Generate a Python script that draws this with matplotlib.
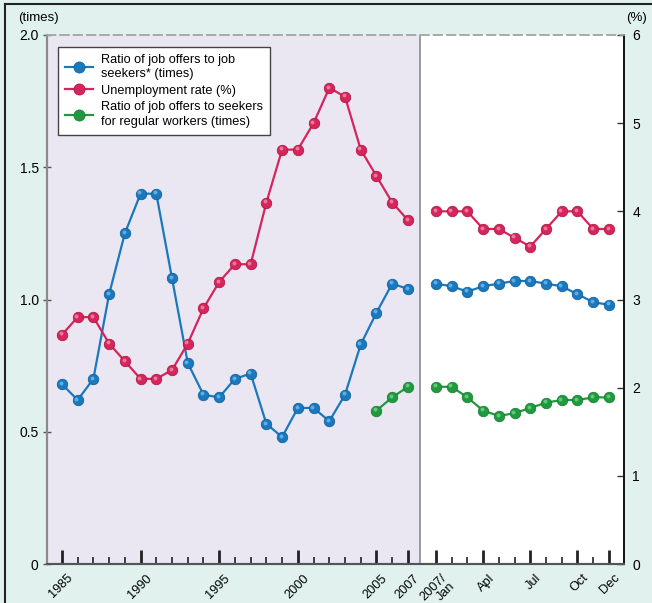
import numpy as np
import matplotlib.pyplot as plt
from matplotlib.lines import Line2D
from matplotlib.transforms import offset_copy

plt.rcParams['font.family'] = ['Liberation Sans', 'DejaVu Sans']

# annual data 1985-2007
years = list(range(1985, 2008))
ratio_annual = [0.68, 0.62, 0.70, 1.02, 1.25, 1.40, 1.40, 1.08, 0.76, 0.64, 0.63, 0.70,
                0.72, 0.53, 0.48, 0.59, 0.59, 0.54, 0.64, 0.83, 0.95, 1.06, 1.04]
unemp_annual = [2.6, 2.8, 2.8, 2.5, 2.3, 2.1, 2.1, 2.2, 2.5, 2.9, 3.2, 3.4,
                3.4, 4.1, 4.7, 4.7, 5.0, 5.4, 5.3, 4.7, 4.4, 4.1, 3.9]
regular_years = [2005, 2006, 2007]
regular_annual = [0.58, 0.63, 0.67]

# monthly data 2007
months = ["Jan", "Feb", "Mar", "Apr", "May", "Jun", "Jul", "Aug", "Sep", "Oct", "Nov", "Dec"]
ratio_monthly = [1.06, 1.05, 1.03, 1.05, 1.06, 1.07, 1.07, 1.06, 1.05, 1.02, 0.99, 0.98]
unemp_monthly = [4.0, 4.0, 4.0, 3.8, 3.8, 3.7, 3.6, 3.8, 4.0, 4.0, 3.8, 3.8]
regular_monthly = [0.67, 0.67, 0.63, 0.58, 0.56, 0.57, 0.59, 0.61, 0.62, 0.62, 0.63, 0.63]

month_labels = {"Jan": "2007/\nJan", "Apr": "Apl", "Jul": "Jul", "Oct": "Oct", "Dec": "Dec"}
year_labels = [1985, 1990, 1995, 2000, 2005, 2007]

BLUE = '#1a78bd'
RED = '#d6245c'
GREEN = '#1f9a3e'
MINT = '#e1f2ee'
LAVENDER = '#ebe7f2'

# x positions: one slot per year, then a gap, one slot per month
gap = 1.78
x_year = np.array(years) - years[0]
x_month = x_year[-1] + gap + np.arange(len(months))
x_reg = np.array(regular_years) - years[0]
x_split = x_year[-1] + 0.76

fig = plt.figure(figsize=(6.52, 6.03), dpi=100, facecolor=MINT)
ax = fig.add_axes([47 / 652, 1 - 564 / 603, 577 / 652, 529 / 603])
ax.set_facecolor('white')
ax.set_xlim(x_year[0] - 0.95, x_month[-1] + 0.96)
ax.set_ylim(0, 2.0)
ax.axvspan(ax.get_xlim()[0], x_split, color=LAVENDER, zorder=0, lw=0)
ax.axvline(x_split, color='#8a8a8a', lw=1.2, zorder=1)

ax2 = ax.twinx()
ax2.set_ylim(0, 6)

SHADES = {BLUE: ('#0d5a94', '#6cb8ec'), RED: ('#a8123f', '#f2899f'), GREEN: ('#127a2b', '#72d088')}


def series(a, x, y, color, label=None):
    dark, light = SHADES[color]
    a.plot(x, y, color=color, lw=1.6, marker='o', ms=7.6, mfc=color, mec=dark, mew=0.5,
           label=label, zorder=3)
    hl = offset_copy(a.transData, fig=fig, x=-1.3, y=1.3, units='dots')
    a.plot(x, y, ls='none', marker='o', ms=2.8, mfc=light, mec='none', alpha=0.85,
           transform=hl, zorder=4)


series(ax, x_year, ratio_annual, BLUE)
series(ax, x_month, ratio_monthly, BLUE)
series(ax2, x_year, unemp_annual, RED)
series(ax2, x_month, unemp_monthly, RED)
series(ax, x_reg, regular_annual, GREEN)
series(ax, x_month, regular_monthly, GREEN)

# ticks
major_x = [x_year[years.index(y)] for y in year_labels] + \
          [x_month[months.index(m)] for m in month_labels]
major_lab = [str(y) for y in year_labels] + list(month_labels.values())
ax.set_xticks(major_x)
ax.set_xticklabels([])
ax.set_xticks(list(x_year) + list(x_month), minor=True)
ax.tick_params(axis='x', which='major', direction='in', length=10, width=2, color='#222222')
ax.tick_params(axis='x', which='minor', direction='in', length=5, width=1.2, color='#222222')

# rotated x labels, anchored at their upper-right corner just below each tick;
# two-line labels are drawn line by line, each next line stepped down-right
for xv, lab in zip(major_x, major_lab):
    for i, part in enumerate(lab.split('\n')):
        tr = offset_copy(ax.get_xaxis_transform(), fig=fig, x=5 + 8 * i, y=-8 - 8 * i,
                         units='dots')
        ax.text(xv, 0, part, transform=tr, rotation=45, rotation_mode='anchor',
                ha='right', va='top', fontsize=9.2, clip_on=False)

ax.set_yticks([0, 0.5, 1.0, 1.5, 2.0])
ax.set_yticklabels(['0', '0.5', '1.0', '1.5', '2.0'], fontsize=10)
ax.tick_params(axis='y', direction='inout', length=6, width=1, color='#555555', pad=3)
ax2.set_yticks(range(7))
ax2.set_yticklabels([str(v) for v in range(7)], fontsize=10)
ax2.tick_params(axis='y', direction='in', length=5, width=1, color='#333333', pad=6)

for a in (ax, ax2):
    a.spines['top'].set_color('#a8a8a8')
    a.spines['top'].set_linestyle((0, (5, 3)))
    a.spines['top'].set_linewidth(1.2)
    a.spines['left'].set_color('#8a8a8a')
    a.spines['left'].set_linewidth(1.5)
    a.spines['bottom'].set_color('#555555')
    a.spines['bottom'].set_linewidth(1.5)
    a.spines['right'].set_color('#111111')
    a.spines['right'].set_linewidth(1.2)

fig.text(18 / 652, 1 - 18 / 603, '(times)', fontsize=9.5, va='center', ha='left')
fig.text(647 / 652, 1 - 18 / 603, '(%)', fontsize=9.5, va='center', ha='right')

# legend
handles = [Line2D([], [], color=c, lw=1.6, marker='o', ms=8, mec=SHADES[c][0], mew=0.5)
           for c in (BLUE, RED, GREEN)]
labels = ['Ratio of job offers to job\nseekers* (times)', 'Unemployment rate (%)',
          'Ratio of job offers to seekers\nfor regular workers (times)']
leg = ax2.legend(handles, labels, loc='upper left', bbox_to_anchor=(0.019, 0.977),
                 borderaxespad=0, fontsize=9.2, frameon=True, fancybox=False,
                 edgecolor='#444444', facecolor='white', framealpha=1,
                 handlelength=2.2, handletextpad=0.6, labelspacing=0.35, borderpad=0.55)
leg.get_frame().set_linewidth(1.0)
for t in leg.get_texts():
    t.set_linespacing(1.25)

# outer frame
fig.add_artist(Line2D([5 / 652, 5 / 652], [0, 1 - 4 / 603], transform=fig.transFigure,
                      color='#222222', lw=1.5))
fig.add_artist(Line2D([5 / 652, 1], [1 - 4 / 603, 1 - 4 / 603], transform=fig.transFigure,
                      color='#222222', lw=1.5))

fig.savefig('out.png', dpi=100, facecolor=MINT)
